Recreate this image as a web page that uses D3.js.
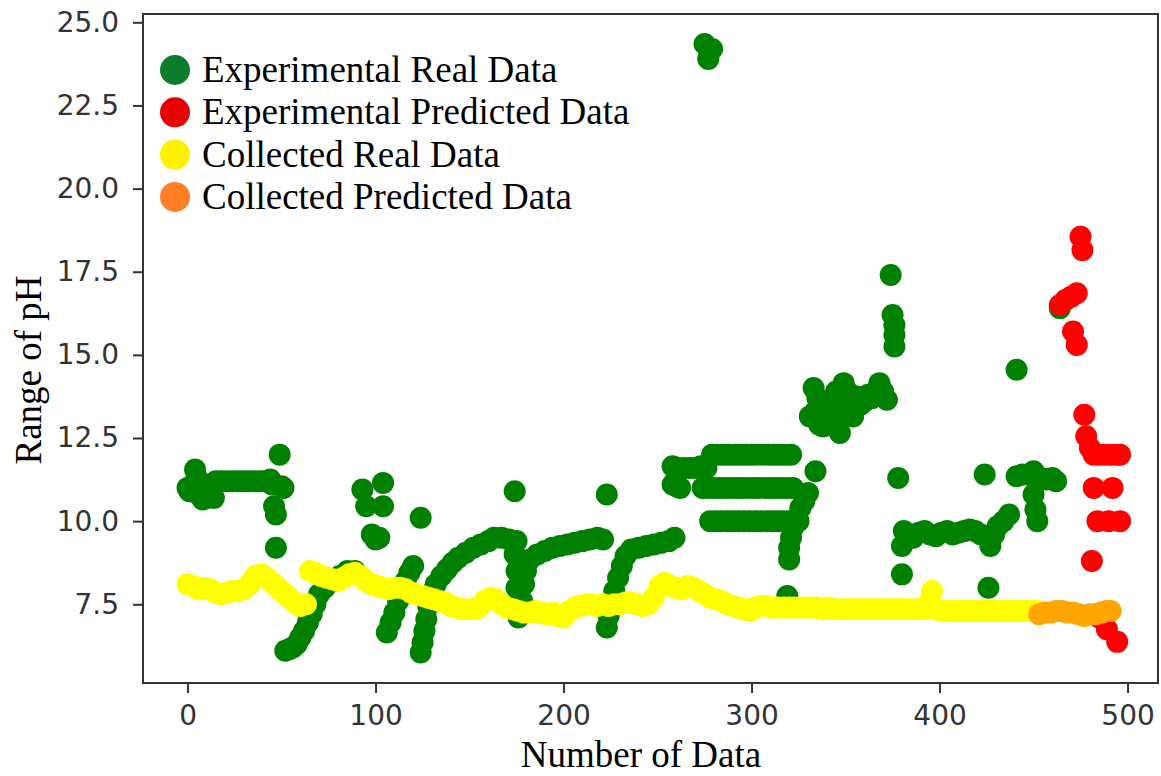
<!DOCTYPE html>
<html>
<head>
<meta charset="utf-8">
<script src="https://cdn.jsdelivr.net/npm/d3@7"></script>
<style>
  body { margin: 0; background: #fff; }
  .tick text { font-family: "DejaVu Sans", sans-serif; fill: #333; }
</style>
</head>
<body>
<script>
// values, [index, pH]
var expReal = [
  [0,11.0],[1,10.9],[3,11.1],[4,11.55],[5,11.3],[6,10.8],[8,10.65],[10,10.7],[11,11.1],[14,10.7],
  [15,11.2],[18,11.2],[21,11.2],[24,11.2],[27,11.2],[30,11.2],[33,11.2],[36,11.2],[39,11.2],[42,11.2],
  [44,11.25],[45,11.1],[46,10.45],[47,10.2],[47,9.2],[49,12.0],[50,11.05],[51,11.0],
  [52,6.1],[54,6.15],[56,6.2],[58,6.3],[60,6.5],[62,6.7],[64,6.95],[66,7.2],[68,7.5],[70,7.8],
  [73,8.0],[77,8.2],[81,8.35],[85,8.5],[89,8.5],
  [93,10.95],[95,10.45],[104,11.15],[104,10.45],[98,9.6],[100,9.45],[102,9.5],
  [106,6.65],[108,6.95],[110,7.25],[112,7.6],[114,7.9],[116,8.2],[118,8.45],[120,8.65],
  [124,10.1],
  [124,6.05],[125,6.35],[126,6.7],[127,7.05],[128,7.45],[130,7.85],[132,8.1],[135,8.35],[138,8.55],
  [141,8.75],[144,8.9],[148,9.05],[152,9.2],[156,9.3],[160,9.4],[163,9.5],[167,9.5],[171,9.45],[175,9.4],
  [174,10.9],
  [174,9.0],[175,8.5],[175,8.0],[176,7.5],[176,7.1],[178,7.6],[179,8.1],[180,8.5],[182,8.85],[186,9.0],
  [190,9.1],[194,9.2],[198,9.25],[202,9.3],[206,9.35],[210,9.4],[214,9.45],[218,9.5],[221,9.45],
  [223,10.8],
  [223,6.8],[224,7.15],[225,7.5],[227,7.9],[229,8.3],[231,8.65],[233,8.95],[236,9.15],[240,9.2],
  [244,9.25],[248,9.3],[252,9.35],[256,9.4],[259,9.5],
  [258,11.1],[260,11.05],[262,11.0],[258,11.65],[261,11.6],[264,11.6],[267,11.6],[270,11.6],[273,11.65],[276,11.6],
  [275,24.35],[277,23.9],[279,24.2],
  [279,12.0],[282,12.0],[285,12.0],[288,12.0],[291,12.0],[294,12.0],[297,12.0],[300,12.0],[303,12.0],
  [306,12.0],[309,12.0],[312,12.0],[315,12.0],[318,12.0],[321,12.0],
  [274,11.0],[277,11.0],[280,11.0],[283,11.0],[286,11.0],[289,11.0],[292,11.0],[295,11.0],[298,11.0],
  [301,11.0],[304,11.0],[307,11.0],[310,11.0],[313,11.0],[316,11.0],[319,11.0],[322,11.0],
  [278,10.0],[281,10.0],[284,10.0],[287,10.0],[290,10.0],[293,10.0],[296,10.0],[299,10.0],[302,10.0],
  [305,10.0],[308,10.0],[311,10.0],[314,10.0],[317,10.0],[320,10.0],[323,10.0],[325,10.0],
  [330,10.85],[328,10.6],[326,10.4],[324,10.1],[322,9.8],[321,9.5],[320,9.2],[320,8.85],[319,7.75],
  [334,11.5],
  [331,13.15],[333,14.0],[334,13.3],[335,13.7],[336,12.9],[337,13.3],[338,12.85],[340,12.9],[342,13.2],
  [344,13.45],[345,13.9],[345,13.0],[347,12.65],[349,14.15],[350,13.3],[351,13.9],[352,13.6],[354,13.15],
  [356,13.75],[358,13.5],[360,13.6],[362,13.8],[364,13.7],[366,13.9],[368,14.15],[370,13.9],[372,13.65],
  [374,17.4],[375,16.2],[376,15.9],[376,15.6],[376,15.25],[378,11.3],
  [380,9.25],[381,9.7],[380,8.4],[383,9.6],[386,9.5],[389,9.65],[392,9.7],[395,9.6],[398,9.55],[401,9.65],
  [404,9.7],[407,9.6],[410,9.65],[413,9.7],[416,9.75],[419,9.7],[422,9.6],[425,9.55],[427,9.25],[429,9.6],
  [431,9.85],[434,10.0],[437,10.2],[426,8.0],[424,11.4],[441,11.35],[441,14.55],[444,11.4],[447,11.4],
  [450,11.5],[450,10.8],[451,10.35],[452,10.0],[454,11.3],[457,11.25],[460,11.3],[462,11.2],[464,16.4]
];

var expPred = [
  [464,16.5],[467,16.65],[470,16.75],[473,16.85],[475,18.55],[476,18.15],[471,15.7],[473,15.3],
  [477,13.2],[478,12.55],[480,12.2],[482,12.0],[485,12.0],[488,12.0],[491,12.0],[494,12.0],[496,12.0],
  [482,11.0],[492,11.0],[484,10.0],[490,10.0],[496,10.0],[481,8.8],[485,7.1],[489,6.75],[494.5,6.37]
];

var colReal = [
  [0,8.1],[3,8.05],[6,7.95],[9,8.0],[12,7.95],[15,7.85],[18,7.8],[21,7.85],[24,7.9],[27,7.9],
  [30,7.95],[33,8.1],[36,8.35],[39,8.4],[42,8.3],[45,8.15],[48,8.0],[51,7.85],[54,7.7],[57,7.55],
  [60,7.45],[63,7.5],[65,8.5],[68,8.45],[71,8.35],[74,8.3],[77,8.25],[80,8.2],[83,8.3],[86,8.4],
  [89,8.45],[92,8.35],[95,8.2],[98,8.1],[101,8.05],[104,8.0],[107,7.95],[110,8.0],[113,8.0],[116,7.95],
  [119,7.85],[122,7.8],[125,7.75],[128,7.7],[131,7.65],[134,7.6],[137,7.55],[140,7.45],[143,7.4],[146,7.35],
  [149,7.35],[152,7.35],[155,7.4],[158,7.6],[161,7.7],[164,7.65],[167,7.5],[170,7.4],[173,7.35],[176,7.3],
  [179,7.25],[182,7.25],[185,7.3],[188,7.25],[191,7.2],[194,7.25],[197,7.15],[200,7.1],[203,7.3],[206,7.4],
  [209,7.45],[212,7.5],[215,7.5],[218,7.45],[221,7.5],[224,7.45],[227,7.5],[230,7.5],[233,7.55],[236,7.55],
  [239,7.5],[242,7.45],[245,7.5],[248,7.7],[251,8.05],[254,8.15],[257,8.05],[260,8.0],[263,7.95],[266,8.05],
  [269,8.0],[272,7.9],[275,7.8],[278,7.7],[281,7.65],[284,7.6],[287,7.5],[290,7.45],[293,7.4],[296,7.35],
  [299,7.3],[302,7.4],[305,7.45],[308,7.45],[311,7.4],[314,7.4],[317,7.4],[320,7.4],[323,7.4],[326,7.4],
  [329,7.4],[332,7.4],[335,7.4],[338,7.35],[341,7.4],[344,7.35],[347,7.35],[350,7.35],[353,7.35],[356,7.35],
  [359,7.35],[362,7.35],[365,7.35],[368,7.35],[371,7.35],[374,7.35],[377,7.35],[380,7.35],[383,7.35],[386,7.35],
  [389,7.35],[392,7.35],[395,7.6],[396,7.9],[398,7.35],[401,7.3],[404,7.3],[407,7.3],[410,7.3],[413,7.3],
  [416,7.3],[419,7.3],[422,7.3],[425,7.3],[428,7.3],[431,7.3],[434,7.3],[437,7.3],[440,7.3],[443,7.3],
  [446,7.3],[449,7.3],[452,7.3]
];

var colPred = [
  [453,7.2],[456,7.25],[459,7.25],[462,7.3],[465,7.3],[468,7.25],[471,7.25],[474,7.2],[477,7.15],
  [480,7.2],[483,7.2],[486,7.25],[489,7.3],[491,7.3]
];

var legendNames = ["Experimental Real Data", "Experimental Predicted Data", "Collected Real Data", "Collected Predicted Data"];
var legendColors = ["#0b7d2a", "#e60000", "#fff200", "#ff7f27"];
var yTicks = [7.5, 10.0, 12.5, 15.0, 17.5, 20.0, 22.5, 25.0];
var xTicks = [0, 100, 200, 300, 400, 500];

var W = 1161, H = 776;
var mLeft = 143, mRight = 1158, mTop = 14, mBottom = 683;

var svg = d3.select("body").append("svg")
  .attr("width", W)
  .attr("height", H);

var x = d3.scaleLinear().domain([-23.7, 516.2]).range([mLeft, mRight]);
var y = d3.scaleLinear().domain([5.133, 25.25]).range([mBottom, mTop]);

var r = 11;

function drawSeries(data, color) {
  svg.append("g").selectAll("circle")
    .data(data)
    .enter().append("circle")
    .attr("cx", function(d) { return x(d[0]); })
    .attr("cy", function(d) { return y(d[1]); })
    .attr("r", r)
    .style("fill", color);
}

drawSeries(expReal, "#008000");
drawSeries(expPred, "#ff0000");
drawSeries(colReal, "#ffff00");
drawSeries(colPred, "#ffa500");

// axes
var yAxis = svg.append("g")
  .attr("transform", "translate(" + mLeft + ",0)")
  .call(d3.axisLeft(y).tickValues(yTicks).tickFormat(d3.format(".1f")).tickSize(10).tickPadding(14));
var xAxis = svg.append("g")
  .attr("transform", "translate(0," + mBottom + ")")
  .call(d3.axisBottom(x).tickValues(xTicks).tickSize(10).tickPadding(12));

[yAxis, xAxis].forEach(function(a) {
  a.select(".domain").remove();
  a.selectAll(".tick line").attr("stroke", "#333").attr("stroke-width", 2);
  a.selectAll(".tick text").style("font-size", "28px");
});

svg.append("rect")
  .attr("x", mLeft).attr("y", mTop)
  .attr("width", mRight - mLeft).attr("height", mBottom - mTop)
  .style("fill", "none")
  .attr("stroke", "#333")
  .attr("stroke-width", 2);

// legend
var leg = svg.append("g");
legendNames.forEach(function(name, i) {
  var cy = 70 + i * 42.3;
  leg.append("circle")
    .attr("cx", 175).attr("cy", cy).attr("r", 15)
    .style("fill", legendColors[i]);
  leg.append("text")
    .attr("x", 202).attr("y", cy + 12)
    .style("font-family", "Liberation Serif, Times New Roman, serif")
    .style("font-size", "37px")
    .style("fill", "#000")
    .text(name);
});

// axis labels
svg.append("text")
  .attr("x", 641).attr("y", 767)
  .attr("text-anchor", "middle")
  .style("font-family", "Liberation Serif, Times New Roman, serif")
  .style("font-size", "37px")
  .text("Number of Data");

svg.append("text")
  .attr("transform", "translate(41,370) rotate(-90)")
  .attr("text-anchor", "middle")
  .style("font-family", "Liberation Serif, Times New Roman, serif")
  .style("font-size", "37px")
  .text("Range of pH");
</script>
</body>
</html>
